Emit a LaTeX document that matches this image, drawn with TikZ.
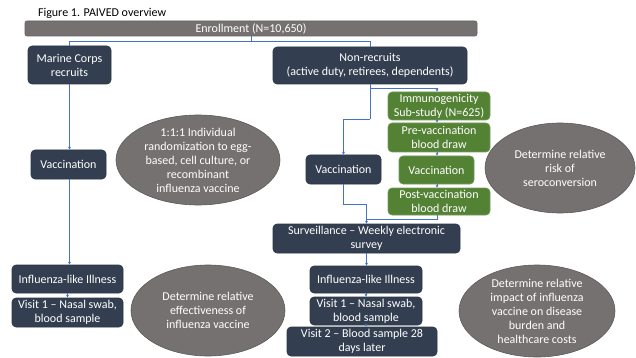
\documentclass[tikz,border=0pt]{standalone}
\usepackage{fontspec}
\setmainfont{Carlito}
\usetikzlibrary{shapes.geometric,arrows.meta}
\definecolor{navy}{HTML}{333F50}
\definecolor{grn}{HTML}{548235}
\definecolor{gry}{HTML}{767171}
\definecolor{lnk}{HTML}{4472C4}
\begin{document}
\begin{tikzpicture}[x=1pt,y=-1pt,
  box/.style={rectangle, rounded corners=4pt, fill=navy, draw=navy!85!black, text=white,
    font=\fontsize{12}{14}\selectfont, align=center, inner sep=0pt, line width=0.6pt},
  gbox/.style={box, fill=grn, draw=grn!80!white},
  oval/.style={ellipse, fill=gry, draw=gry!80!black, line width=0.6pt, inner sep=0pt},
  ovaltext/.style={text=white, align=center, inner sep=0pt, font=\fontsize{12}{14}\selectfont},
  link/.style={draw=lnk, line width=0.6pt},
  arr/.style={link, -{Stealth[length=3pt,width=3pt]}}]
\useasboundingbox (0,0) rectangle (636,358);
\fill[white] (0,0) rectangle (636,358);

\node[anchor=west, font=\fontsize{12}{14}\selectfont] (title) at (34.5,13) {Figure 1. PAIVED overview};

\node[box, fill=gry, draw=gry!85!black, rounded corners=2pt, minimum width=452pt, minimum height=15pt] (enroll) at (251,28.5) {Enrollment (N=10,650)};

\node[box, minimum width=83pt, minimum height=38pt] (marine) at (69.5,65) {Marine Corps\\recruits};
\node[box, minimum width=194pt, minimum height=37pt] (nonrec) at (370,65.5) {Non-recruits\\(active duty, retirees, dependents)};

\node[box, minimum width=75pt, minimum height=29pt] (vacL) at (68.5,164.5) {Vaccination};
\node[box, minimum width=75pt, minimum height=29pt] (vacM) at (343.5,169.5) {Vaccination};

\node[gbox, minimum width=102pt, minimum height=28pt] (immuno) at (439,106) {Immunogenicity\\Sub-study (N=625)};
\node[gbox, minimum width=102pt, minimum height=29pt] (pre) at (439,137.5) {Pre-vaccination\\blood draw};
\node[gbox, minimum width=75pt, minimum height=28pt] (vacG) at (436.5,170) {Vaccination};
\node[gbox, minimum width=102pt, minimum height=27pt] (post) at (439,201.5) {Post-vaccination\\blood draw};

\node[box, minimum width=187pt, minimum height=29pt] (surv) at (366.5,238.5) {Surveillance -- Weekly electronic\\survey};
\node[box, minimum width=112pt, minimum height=27pt] (iliR) at (366,279.5) {Influenza-like Illness};
\node[box, minimum width=112pt, minimum height=28pt] (v1R) at (366,311) {Visit 1 -- Nasal swab,\\blood sample};
\node[box, minimum width=150pt, minimum height=29pt] (v2) at (362,341.5) {Visit 2 -- Blood sample 28\\days later};

\node[box, minimum width=111pt, minimum height=28pt] (iliL) at (67.5,279) {Influenza-like Illness};
\node[box, minimum width=111pt, minimum height=29pt] (v1L) at (67.5,312.5) {Visit 1 -- Nasal swab,\\blood sample};

\node[oval, minimum width=164pt, minimum height=90pt] (e1) at (198,160) {};
\node[ovaltext] (e1t) at (e1.center) {1:1:1 Individual\\randomization to egg-\\based, cell culture, or\\recombinant\\influenza vaccine};
\node[oval, minimum width=154pt, minimum height=91pt] (e2) at (208,310.5) {};
\node[ovaltext] (e2t) at (e2.center) {Determine relative\\effectiveness of\\influenza vaccine};
\node[oval, minimum width=150pt, minimum height=90pt] (e3) at (560,168) {};
\node[ovaltext] (e3t) at (e3.center) {Determine relative\\risk of\\seroconversion};
\node[oval, minimum width=156pt, minimum height=92pt] (e4) at (537,311) {};
\node[ovaltext] (e4t) at (e4.center) {Determine relative\\impact of influenza\\vaccine on disease\\burden and\\healthcare costs};

\coordinate (gx) at (437,0);
\coordinate (h1) at (0,119);
\coordinate (h2) at (0,204);
\coordinate (h3) at (0,219);

\draw[link] (enroll.south) -- ++(0,5) coordinate (j1);
\draw[link] (j1) -| (marine.north);
\draw[link] (j1) -| (nonrec.north);

\draw[arr] (marine.south) -- (marine.south |- vacL.north);
\draw[arr] (vacL.south -| marine.south) -- (marine.south |- iliL.north);
\draw[arr] (iliL.south) -- (v1L.north);

\draw[arr] (nonrec.south) -- ++(0,4) -| (gx |- immuno.north);
\draw[link] (nonrec.south) -- (nonrec.south |- h1) coordinate (j2);
\draw[arr] (j2) -| (vacM.north);

\draw[arr] (gx |- immuno.south) -- (gx |- pre.north);
\draw[arr] (gx |- pre.south) -- (gx |- vacG.north);
\draw[arr] (gx |- vacG.south) -- (gx |- post.north);

\draw[arr] (vacM.south) -- (vacM.south |- h2) -| (surv.north);
\draw[link] (gx |- post.south) -- (gx |- h3) -- (surv.north |- h3);

\draw[arr] (surv.south) -- (surv.south |- iliR.north);
\draw[arr] (iliR.south) -- (v1R.north);
\draw[arr] (v1R.south) -- (v1R.south |- v2.north);
\end{tikzpicture}
\end{document}
